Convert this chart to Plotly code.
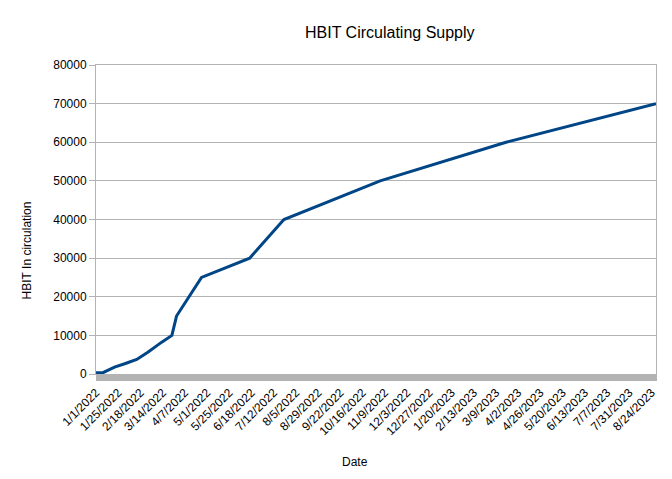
import plotly.graph_objects as go

dates = ["2022-01-01", "2022-01-09", "2022-01-21", "2022-02-01", "2022-02-14",
         "2022-02-26", "2022-03-13", "2022-03-24", "2022-03-29", "2022-04-25",
         "2022-06-16", "2022-07-23", "2022-11-04", "2023-03-20", "2023-08-29"]
supply = [300, 400, 1800, 2650, 3750, 5650, 8250, 10000, 15000, 25000,
          30000, 40000, 50000, 60000, 70000]

title_text = "HBIT Circulating Supply"
y_title = "HBIT In circulation"
x_title = "Date"

DAY = 86400000
grid = "#b3b3b3"
font_family = "Liberation Sans, Arial, sans-serif"

fig = go.Figure()
fig.add_trace(go.Scatter(x=dates, y=supply, mode="lines",
                         line=dict(color="#004586", width=3, simplify=False),
                         showlegend=False))

fig.update_layout(
    width=664, height=471,
    margin=dict(l=88, r=16, t=57, b=105),
    paper_bgcolor="white", plot_bgcolor="white",
    font=dict(family=font_family, size=12, color="#000000"),
    annotations=[
        dict(text=title_text, xref="paper", yref="paper", x=0.525, y=1.0,
             yshift=33, xanchor="center", yanchor="middle", showarrow=False,
             font=dict(size=16, family=font_family, color="#000")),
        dict(text=y_title, xref="paper", yref="paper", x=0, xshift=-69, y=0.4,
             textangle=-90, xanchor="center", yanchor="middle", showarrow=False,
             font=dict(size=12, family=font_family, color="#000")),
        dict(text=x_title, xref="paper", yref="paper", x=0.462, y=0, yshift=-88,
             xanchor="center", yanchor="middle", showarrow=False,
             font=dict(size=12, family=font_family, color="#000")),
    ],
)

fig.update_xaxes(
    type="date", range=[dates[0], dates[-1]], automargin=False,
    tick0=dates[0], dtick=24 * DAY, tickformat="%-m/%-d/%Y", tickangle=-45,
    ticks="outside", ticklen=6, tickcolor=grid, tickwidth=1,
    minor=dict(dtick=DAY, ticks="outside", ticklen=6, tickcolor=grid, tickwidth=1, showgrid=False),
    showgrid=False, showline=True, linecolor=grid, linewidth=1, mirror=True,
    tickfont=dict(size=12, family=font_family, color="#000"),
    zeroline=False,
)
fig.update_yaxes(
    range=[0, 80000], dtick=10000, tickformat="d", automargin=False,
    ticks="outside", ticklen=6, tickcolor=grid,
    showgrid=True, gridcolor=grid, gridwidth=1,
    showline=True, linecolor=grid, linewidth=1, mirror=True,
    tickfont=dict(size=12, family=font_family, color="#000"),
    zeroline=False,
)

fig.write_html("out.html")
